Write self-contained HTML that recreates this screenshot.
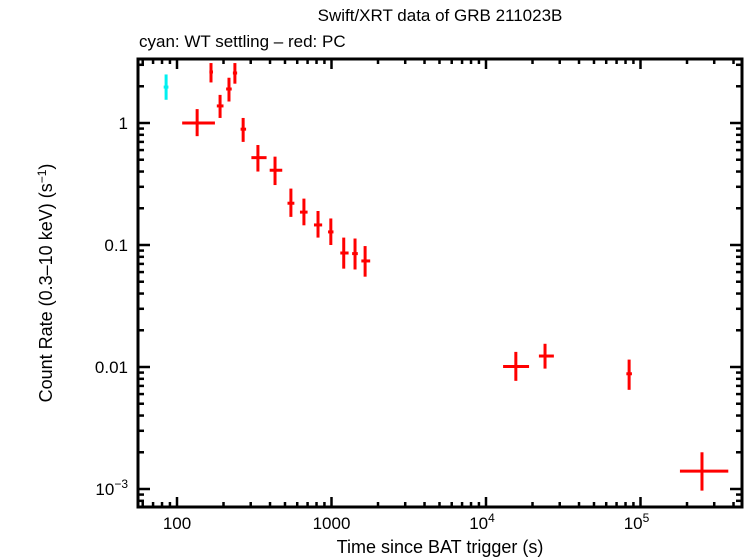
<!DOCTYPE html>
<html><head><meta charset="utf-8"><style>
html,body{margin:0;padding:0;background:#fff;}
svg{display:block;font-family:"Liberation Sans",Arial,sans-serif;}
</style></head><body>
<svg id="chart" width="746" height="558" viewBox="0 0 746 558" xmlns="http://www.w3.org/2000/svg">
<rect x="0" y="0" width="746" height="558" fill="#fff"/>
<text x="440" y="21" font-size="17" text-anchor="middle">Swift/XRT data of GRB 211023B</text>
<text x="139" y="47" font-size="17">cyan: WT settling – red: PC</text>
<text x="440" y="553" font-size="18" text-anchor="middle">Time since BAT trigger (s)</text>
<text transform="translate(52,283) rotate(-90)" font-size="18" text-anchor="middle">Count Rate (0.3–10 keV) (s<tspan dy="-6" font-size="12">−1</tspan><tspan dy="6">)</tspan></text>
<g id="ticks"></g>
<g id="marks"></g>
<rect x="138" y="59" width="604" height="448" fill="none" stroke="#000" stroke-width="3"/>
</svg>
<script>
const wtT=[85], wtTlo=[82], wtThi=[88], wtR=[1.97], wtRlo=[1.55], wtRhi=[2.5];
const pcT=[135,166,190,217,237,268,334,431,546,663,818,990,1200,1420,1650,15600,24100,84400,250000];
const pcTlo=[108,162,181,208,230,258,303,398,519,625,770,950,1140,1360,1560,12900,22000,81000,180000];
const pcThi=[176,171,200,226,245,280,380,480,575,700,870,1030,1290,1480,1780,19000,27500,88000,370000];
const pcR=[1.0,2.62,1.38,1.9,2.57,0.89,0.52,0.41,0.22,0.186,0.146,0.128,0.086,0.085,0.074,0.0101,0.0123,0.0088,0.0014];
const pcRlo=[0.78,2.15,1.1,1.5,2.1,0.7,0.4,0.31,0.17,0.145,0.115,0.1,0.064,0.063,0.055,0.0077,0.0097,0.0065,0.00097];
const pcRhi=[1.3,3.1,1.7,2.35,3.1,1.1,0.66,0.53,0.29,0.24,0.19,0.165,0.115,0.113,0.098,0.0133,0.0155,0.0115,0.002];
const xTickVals=[100,1000,10000,100000];
const xTickLabels=["100","1000","10^4","10^5"];
const yTickVals=[1,0.1,0.01,0.001];
const yTickLabels=["1","0.1","0.01","10^-3"];

const L=138,R=742,T=59,B=507;
function xs(t){return 177+(Math.log10(t)-2)*154.5;}
function ys(v){return 123-Math.log10(v)*122;}
const NS="http://www.w3.org/2000/svg";
function mk(tag,attrs,parent){const e=document.createElementNS(NS,tag);for(const k in attrs)e.setAttribute(k,attrs[k]);parent.appendChild(e);return e;}
const tg=document.getElementById('ticks'), mg=document.getElementById('marks');
function lbl(txt,x,y,anchor,name){
  const t=mk('text',{x:x,y:y,'font-size':17,'text-anchor':anchor},tg);
  
  
  const m=txt.match(/^10\^(.*)$/);
  if(m){t.textContent='10';const s=mk('tspan',{dy:-7,'font-size':12},t);s.textContent=m[1].replace('-','−');}
  else t.textContent=txt;
}
// x ticks
for(let d=1;d<=6;d++){for(let m=1;m<10;m++){const v=m*Math.pow(10,d);const x=xs(v);if(x<L+1||x>R-1)continue;const len=m===1?10:5;
  const a=mk('line',{x1:x,x2:x,y1:B,y2:B-len,stroke:'#000','stroke-width':2.5},tg);
  const b=mk('line',{x1:x,x2:x,y1:T,y2:T+len,stroke:'#000','stroke-width':2.5},tg);}}
for(let d=-4;d<=1;d++){for(let m=1;m<10;m++){const v=m*Math.pow(10,d);const y=ys(v);if(y<T+1||y>B-1)continue;const len=m===1?12:6;
  const a=mk('line',{x1:L,x2:L+len,y1:y,y2:y,stroke:'#000','stroke-width':2.5},tg);
  const b=mk('line',{x1:R,x2:R-len,y1:y,y2:y,stroke:'#000','stroke-width':2.5},tg);}}
xTickVals.forEach((v,i)=>lbl(xTickLabels[i],xs(v)+(i>=2?-4:0),529,'middle','x-tick-label'));
yTickVals.forEach((v,i)=>lbl(yTickLabels[i],128,ys(v)+6,'end','y-tick-label'));
function cross(t,tlo,thi,r,rlo,rhi,col,name){
  const g=mk('g',{},mg);
  
  
  mk('line',{x1:xs(tlo),x2:xs(thi),y1:ys(r),y2:ys(r),stroke:col,'stroke-width':3},g);
  mk('line',{x1:xs(t),x2:xs(t),y1:ys(rlo),y2:ys(rhi),stroke:col,'stroke-width':3},g);
}
wtT.forEach((t,i)=>cross(t,wtTlo[i],wtThi[i],wtR[i],wtRlo[i],wtRhi[i],'#00f0f0','wt-point'));
pcT.forEach((t,i)=>cross(t,pcTlo[i],pcThi[i],pcR[i],pcRlo[i],pcRhi[i],'#ff0000','pc-point'));
</script>
</body></html>
